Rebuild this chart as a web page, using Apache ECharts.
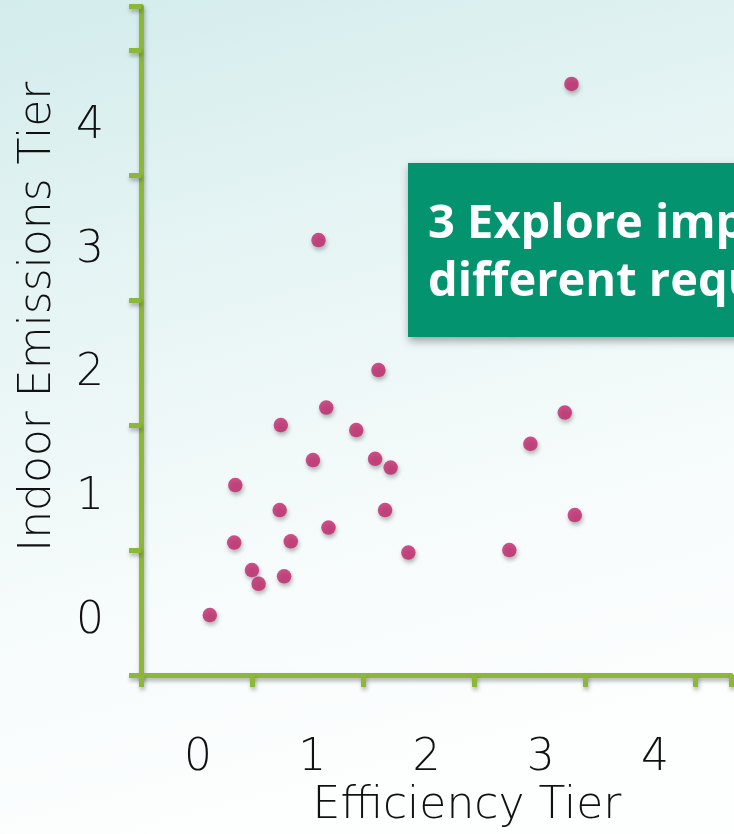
<!DOCTYPE html>
<html>
<head>
<meta charset="utf-8">
<script src="https://cdn.jsdelivr.net/npm/echarts@6/dist/echarts.min.js"></script>
<style>
html,body{margin:0;padding:0;}
#chart{width:734px;height:834px;}
</style>
</head>
<body>
<div id="chart"></div>
<script>
// ---- data ----
const xTickLabels = ['0', '1', '2', '3', '4'];
const yTickLabels = ['0', '1', '2', '3', '4'];
const efficiencyTier = [0.12, 0.34, 0.35, 0.50, 0.56, 0.75, 0.76, 0.79, 0.85, 1.05, 1.10, 1.17, 1.19, 1.44, 1.61, 1.64, 1.70, 1.75, 1.91, 2.82, 2.83, 3.01, 3.32, 3.38, 3.41];
const emissionsTier = [-0.02, 0.56, 1.02, 0.34, 0.23, 0.82, 1.50, 0.29, 0.57, 1.22, 2.98, 1.64, 0.68, 1.46, 1.23, 1.94, 0.82, 1.16, 0.48, 0.50, 2.30, 1.35, 1.60, 4.23, 0.78];
const xAxisTitle = 'Efficiency Tier';
const yAxisTitle = 'Indoor Emissions Tier';
const calloutLines = ['3 Explore impacts of', 'different requirements'];

const points = efficiencyTier.map((x, i) => [x, emissionsTier[i]]);

const green = '#8cb83a';
const axisFont = '"DejaVu Sans"';
const isInt = v => Math.abs(v - Math.round(v)) < 1e-6;
const pick = (arr) => (v) => (isInt(v) && Math.round(v) >= 0 && Math.round(v) < arr.length) ? arr[Math.round(v)] : '';

const chart = echarts.init(document.getElementById('chart'), null, { renderer: 'canvas' });
const lineStyle = { color: green, width: 5, shadowColor: 'rgba(0,0,0,0.3)', shadowBlur: 4, shadowOffsetY: 3, shadowOffsetX: 1 };

chart.setOption({
  backgroundColor: {
    type: 'linear', x: 0, y: 0, x2: 0.3, y2: 1,
    colorStops: [
      { offset: 0, color: '#d3ecec' },
      { offset: 0.35, color: '#e6f4f4' },
      { offset: 0.7, color: '#f6fbfb' },
      { offset: 1, color: '#fdfefe' }
    ]
  },
  animation: false,
  grid: { left: 141, top: 6.4, right: 0, height: 673.6, containLabel: false },
  xAxis: [
    {
      type: 'value', min: -0.5, max: 4.818, interval: 1,
      axisLine: { show: true, onZero: false, lineStyle: lineStyle },
      axisTick: { show: true, length: 12, lineStyle: lineStyle },
      axisLabel: { show: false },
      splitLine: { show: false },
      name: xAxisTitle, nameLocation: 'middle', nameGap: 110,
      nameTextStyle: { fontFamily: axisFont, fontWeight: 200, fontSize: 44, color: '#111', padding: [0, 0, 0, 62] }
    },
    {
      type: 'value', min: -0.5, max: 4.666, interval: 0.5, position: 'bottom',
      axisLine: { show: false }, axisTick: { show: false }, splitLine: { show: false },
      axisLabel: { show: true, margin: 62, formatter: pick(xTickLabels), fontFamily: axisFont, fontWeight: 200, fontSize: 44, color: '#111' }
    }
  ],
  yAxis: [
    {
      type: 'value', min: -0.5, max: 4.85, interval: 1,
      axisLine: { show: true, onZero: false, lineStyle: lineStyle },
      axisTick: { show: true, length: 12, lineStyle: lineStyle },
      axisLabel: { show: false },
      splitLine: { show: false },
      name: yAxisTitle, nameLocation: 'middle', nameGap: 80,
      nameTextStyle: { fontFamily: axisFont, fontWeight: 200, fontSize: 44, color: '#111', padding: [0, 0, 0, 48] }
    },
    {
      type: 'value', min: -0.43, max: 4.967, splitNumber: 5, position: 'left',
      axisLine: { show: false }, axisTick: { show: false }, splitLine: { show: false },
      axisLabel: { show: true, margin: 37, formatter: pick(yTickLabels), fontFamily: axisFont, fontWeight: 200, fontSize: 44, color: '#111' }
    }
  ],
  series: [{
    type: 'scatter',
    xAxisIndex: 0, yAxisIndex: 0,
    data: points,
    symbol: 'circle',
    symbolSize: 14.5,
    itemStyle: { color: '#c2246b', shadowColor: 'rgba(0,0,0,0.35)', shadowBlur: 4, shadowOffsetX: 1, shadowOffsetY: 3 },
    z: 3
  }],
  graphic: [
    {
      type: 'rect', z: 100,
      shape: { x: 408, y: 163, width: 340, height: 174 },
      style: { fill: '#03946f', shadowColor: 'rgba(0,0,0,0.35)', shadowBlur: 8, shadowOffsetY: 4, shadowOffsetX: 1 }
    },
    {
      type: 'text', z: 101, x: 428, y: 225,
      style: { text: calloutLines[0], fill: '#ffffff', font: 'bold 47px "Open Sans"', verticalAlign: 'middle', align: 'left' }
    },
    {
      type: 'text', z: 101, x: 428, y: 283,
      style: { text: calloutLines[1], fill: '#ffffff', font: 'bold 47px "Open Sans"', verticalAlign: 'middle', align: 'left' }
    }
  ]
});
</script>
</body>
</html>
